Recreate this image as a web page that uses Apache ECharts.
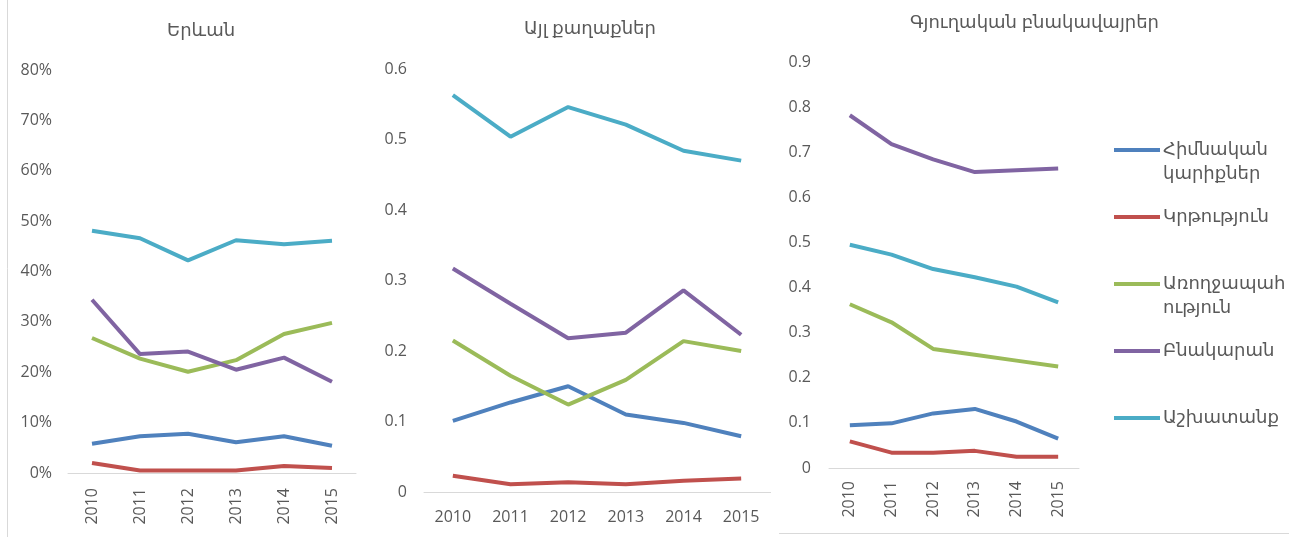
<!DOCTYPE html>
<html>
<head>
    <meta charset="utf-8">
    <title>Ծախսերի կառուցվածք</title>
    <script src="https://cdn.jsdelivr.net/npm/echarts@6/dist/echarts.min.js"></script>
</head>
<body style="margin:0;background:#fff;">
    <div id="main" style="width:1289px;height:537px;"></div>
    <script type="text/javascript">
        // տարիներ
        var years = ['2010', '2011', '2012', '2013', '2014', '2015'];
        var seriesNames = ['Հիմնական կարիքներ', 'Կրթություն', 'Առողջապահություն', 'Բնակարան', 'Աշխատանք'];
        var legendLabels = ['Հիմնական\nկարիքներ', 'Կրթություն', 'Առողջապահ\nություն', 'Բնակարան', 'Աշխատանք'];
        var panelTitles = ['Երևան', 'Այլ քաղաքներ', 'Գյուղական բնակավայրեր'];
        var colors = ['#4F81BD', '#C0504D', '#9BBB59', '#8064A2', '#4BACC6'];

        // Երևան (բաժին)
        var yerevan = [
            [0.058, 0.073, 0.078, 0.061, 0.073, 0.054],
            [0.020, 0.005, 0.005, 0.005, 0.014, 0.010],
            [0.268, 0.227, 0.201, 0.224, 0.276, 0.298],
            [0.344, 0.236, 0.241, 0.205, 0.229, 0.181],
            [0.481, 0.466, 0.422, 0.462, 0.454, 0.461]
        ];
        // Այլ քաղաքներ
        var otherCities = [
            [0.101, 0.127, 0.150, 0.110, 0.098, 0.079],
            [0.023, 0.011, 0.014, 0.011, 0.016, 0.019],
            [0.215, 0.165, 0.124, 0.159, 0.214, 0.200],
            [0.317, 0.267, 0.218, 0.226, 0.286, 0.223],
            [0.563, 0.504, 0.546, 0.521, 0.484, 0.470]
        ];
        // Գյուղական բնակավայրեր
        var rural = [
            [0.095, 0.099, 0.121, 0.131, 0.103, 0.065],
            [0.059, 0.034, 0.034, 0.038, 0.025, 0.025],
            [0.363, 0.323, 0.264, 0.251, 0.238, 0.225],
            [0.782, 0.718, 0.684, 0.656, 0.660, 0.664],
            [0.495, 0.473, 0.441, 0.423, 0.402, 0.367]
        ];
        var yMax = [0.8, 0.6, 0.9];

        var textColor = '#595959';
        var fontFam = "'Open Sans', 'DejaVu Sans', sans-serif";

        var grids = [
            {left: 68, top: 70, width: 288, height: 403},
            {left: 424, top: 69, width: 346, height: 423},
            {left: 829, top: 62, width: 250, height: 406}
        ];
        var titlePos = [[162, 17], [519, 15], [905, 9]];
        var xRotate = [90, 0, 90];
        var xMargin = [15, 17, 13];
        var yMargin = [16, 17, 18];

        var panels = [yerevan, otherCities, rural];

        var option = {
            backgroundColor: '#fff',
            animation: false,
            color: colors,
            textStyle: {fontFamily: fontFam},
            title: panelTitles.map(function (t, i) {
                return {
                    text: t,
                    left: titlePos[i][0],
                    top: titlePos[i][1],
                    textStyle: {color: textColor, fontSize: 18, fontWeight: 'normal', fontFamily: fontFam}
                };
            }),
            grid: grids,
            xAxis: grids.map(function (g, i) {
                return {
                    type: 'category',
                    gridIndex: i,
                    data: years,
                    boundaryGap: true,
                    axisTick: {show: false},
                    axisLine: {lineStyle: {color: '#D9D9D9', width: 1}},
                    axisLabel: {
                        interval: 0,
                        rotate: xRotate[i],
                        margin: xMargin[i],
                        color: textColor,
                        fontSize: 16,
                        fontFamily: fontFam
                    }
                };
            }),
            yAxis: grids.map(function (g, i) {
                return {
                    type: 'value',
                    gridIndex: i,
                    min: 0,
                    max: yMax[i],
                    interval: 0.1,
                    splitLine: {show: false},
                    axisLine: {show: false},
                    axisTick: {show: false},
                    axisLabel: {
                        margin: yMargin[i],
                        color: textColor,
                        fontSize: 16,
                        fontFamily: fontFam,
                        formatter: i === 0 ? function (v) { return Math.round(v * 100) + '%'; } : null
                    }
                };
            }),
            legend: [],
            series: [],
            graphic: [
                {type: 'line', shape: {x1: 7.5, y1: 0, x2: 7.5, y2: 537}, style: {stroke: '#D9D9D9', lineWidth: 1}},
                {type: 'line', shape: {x1: 779, y1: 533.5, x2: 1289, y2: 533.5}, style: {stroke: '#D9D9D9', lineWidth: 1}},
                {type: 'line', shape: {x1: 760, y1: 492.5, x2: 771, y2: 492.5}, style: {stroke: '#D9D9D9', lineWidth: 1}}
            ]
        };

        panels.forEach(function (data, p) {
            data.forEach(function (vals, s) {
                option.series.push({
                    name: seriesNames[s],
                    type: 'line',
                    xAxisIndex: p,
                    yAxisIndex: p,
                    data: vals,
                    symbol: 'none',
                    lineStyle: {width: 4, color: colors[s]},
                    itemStyle: {color: colors[s]}
                });
            });
        });

        // legend, one block per series; a leading empty line keeps the icon on the first text line
        var legendIconY = [150, 217, 284, 351, 418];
        var lh = 24;
        seriesNames.forEach(function (name, i) {
            var twoLine = legendLabels[i].indexOf('\n') >= 0;
            option.legend.push({
                data: [name],
                left: 1114,
                top: twoLine ? legendIconY[i] - 1.5 * lh : legendIconY[i] - lh / 2,
                icon: 'rect',
                itemWidth: 46,
                itemHeight: 4,
                itemGap: 0,
                selectedMode: false,
                padding: 0,
                formatter: function () { return twoLine ? '\n' + legendLabels[i] : legendLabels[i]; },
                textStyle: {
                    color: textColor,
                    fontSize: 18,
                    fontFamily: fontFam,
                    lineHeight: lh,
                    padding: [0, 0, 0, -2]
                }
            });
        });

        var myChart = echarts.init(document.getElementById('main'));
        myChart.setOption(option);
    </script>
</body>
</html>
